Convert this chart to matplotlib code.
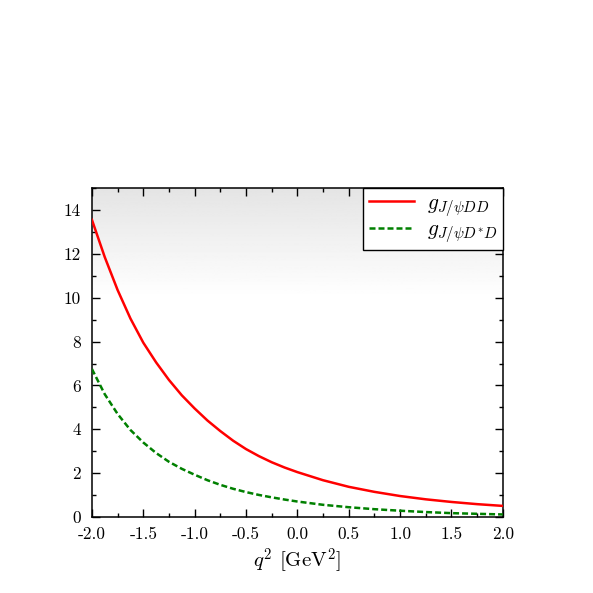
import numpy as np
import matplotlib
matplotlib.use("Agg")
import matplotlib.pyplot as plt
from matplotlib.ticker import MultipleLocator, FormatStrFormatter

plt.rcParams["font.family"] = "serif"
plt.rcParams["font.serif"] = ["cmr10"]
plt.rcParams["mathtext.fontset"] = "cm"
plt.rcParams["axes.unicode_minus"] = False
plt.rcParams["axes.formatter.use_mathtext"] = True

# values
q2 = [-2.0, -1.875, -1.75, -1.625, -1.5, -1.375, -1.25, -1.125,
      -1.0, -0.875, -0.75, -0.625, -0.5, -0.375, -0.25, -0.125,
      0.0, 0.25, 0.5, 0.75, 1.0, 1.25, 1.5, 1.75, 2.0]
g_dd = [13.55, 11.85, 10.35, 9.05, 7.95, 7.05, 6.25, 5.55,
        4.95, 4.40, 3.92, 3.48, 3.10, 2.78, 2.50, 2.26,
        2.05, 1.68, 1.38, 1.15, 0.96, 0.81, 0.69, 0.59, 0.51]
g_dsd = [6.75, 5.60, 4.70, 3.97, 3.40, 2.92, 2.52, 2.20,
         1.93, 1.68, 1.47, 1.29, 1.14, 1.01, 0.90, 0.80,
         0.71, 0.56, 0.45, 0.36, 0.29, 0.23, 0.18, 0.15, 0.12]

fig = plt.figure(figsize=(5.93, 5.93), dpi=100)
ax = fig.add_axes([0.155, 0.128, 0.693, 0.555])

# grey fade at the top of the frame
grad = np.linspace(1.0, 0.895, 100).reshape(-1, 1)
ax.imshow(grad, extent=[-2, 2, 10, 15], origin="lower", cmap="gray",
          vmin=0, vmax=1, aspect="auto", zorder=0)

ax.plot(q2, g_dd, color="red", lw=1.8, label=r"$g_{J/\psi DD}$", zorder=3)
ax.plot(q2, g_dsd, color="green", lw=1.8, dashes=(2.4, 1.2),
        label=r"$g_{J/\psi D^{*}D}$", zorder=3)

ax.set_xlim(-2, 2)
ax.set_ylim(0, 15)
ax.xaxis.set_major_locator(MultipleLocator(0.5))
ax.xaxis.set_minor_locator(MultipleLocator(0.25))
ax.yaxis.set_major_locator(MultipleLocator(2))
ax.yaxis.set_minor_locator(MultipleLocator(1))
ax.xaxis.set_major_formatter(FormatStrFormatter("%.1f"))
ax.yaxis.set_major_formatter(FormatStrFormatter("%d"))
ax.tick_params(which="both", direction="in", top=True, right=True, labelsize=12.5)
ax.tick_params(which="major", length=6, width=1)
ax.tick_params(which="minor", length=3, width=1)
ax.tick_params(axis="x", pad=7)
ax.tick_params(axis="y", pad=8)
for s in ax.spines.values():
    s.set_linewidth(1.1)

ax.set_xlabel(r"$q^2$ [GeV$^2$]", fontsize=15, labelpad=3)

leg = ax.legend(loc="upper right", borderaxespad=0, fancybox=False,
                edgecolor="black", framealpha=1, fontsize=15.5, handlelength=2.1,
                handletextpad=0.6, borderpad=0.25, labelspacing=0.05)
leg.get_frame().set_linewidth(1.0)

plt.savefig("out.png", dpi=100)
plt.close()
